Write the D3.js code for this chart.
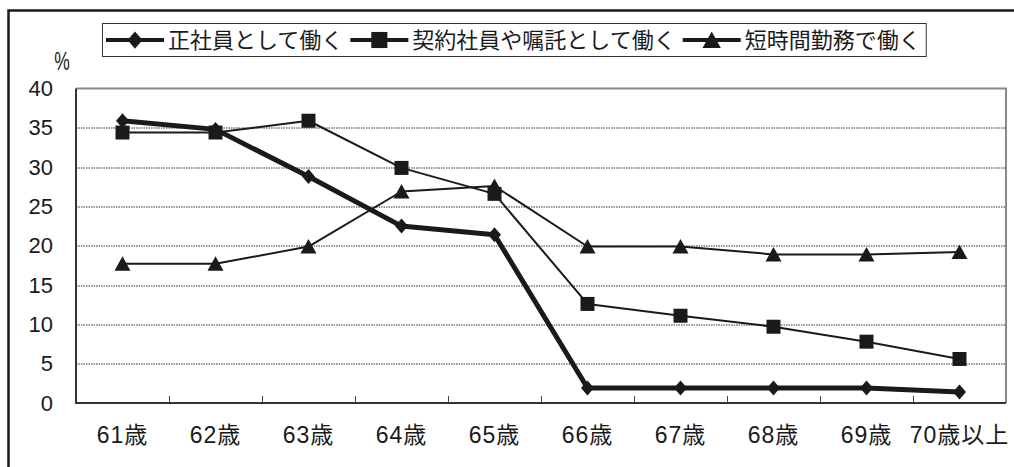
<!DOCTYPE html>
<html>
<head>
<meta charset="utf-8">
<script src="https://cdn.jsdelivr.net/npm/d3@7"></script>
<style>
  body { margin: 0; background: #fff; }
  text { font-family: "Liberation Sans", "Noto Sans CJK JP", sans-serif; fill: #1a1a1a; }
  .jp { font-family: "Noto Sans CJK JP", sans-serif; }
</style>
</head>
<body>
<div id="chart"></div>
<script>
// categories and series (percent)
const ages = ["61歳", "62歳", "63歳", "64歳", "65歳", "66歳", "67歳", "68歳", "69歳", "70歳以上"];
const fullTime = [35.9, 34.8, 28.8, 22.5, 21.4, 1.9, 1.9, 1.9, 1.9, 1.4];
const contract = [34.4, 34.4, 35.9, 29.9, 26.6, 12.6, 11.1, 9.7, 7.8, 5.6];
const shortTime = [17.7, 17.7, 19.9, 26.9, 27.6, 19.9, 19.9, 18.9, 18.9, 19.2];
const seriesNames = ["正社員として働く", "契約社員や嘱託として働く", "短時間勤務で働く"];
const yTicks = [0, 5, 10, 15, 20, 25, 30, 35, 40];

const W = 1014, H = 467;
const margin = { top: 88.5, right: 8, bottom: 64, left: 76 },
    width = W - margin.left - margin.right,
    height = H - margin.top - margin.bottom;

const ink = "#1a1a1a";

const svg = d3.select("#chart")
    .append("svg")
    .attr("width", W)
    .attr("height", H);

// outer frame (only left and top visible)
svg.append("path")
    .attr("d", `M8.5,${H} V10.5 H${W}`)
    .attr("fill", "none")
    .attr("stroke", ink)
    .attr("stroke-width", 2.5);

const g = svg.append("g")
    .attr("transform", `translate(${margin.left},${margin.top})`);

const x = d3.scaleBand().domain(ages).range([0, width]);
const y = d3.scaleLinear().domain([0, 40]).range([height, 0]);

// dotted gridlines
g.selectAll(".grid")
    .data(yTicks.filter(d => d > 0 && d < 40))
    .enter()
    .append("line")
    .attr("x1", 0)
    .attr("x2", width)
    .attr("y1", d => Math.round(y(d)) + 0.5)
    .attr("y2", d => Math.round(y(d)) + 0.5)
    .attr("stroke", "#333")
    .attr("stroke-width", 1)
    .attr("stroke-dasharray", "1.5,1");

// plot frame: top and right grey, left and bottom dark
g.append("path")
    .attr("d", `M0,0 H${width} V${height}`)
    .attr("fill", "none")
    .attr("stroke", "#8a8a8a")
    .attr("stroke-width", 2);
g.append("path")
    .attr("d", `M0,0 V${height} H${width}`)
    .attr("fill", "none")
    .attr("stroke", "#333")
    .attr("stroke-width", 2);

// y axis labels
const yAxis = g.append("g")
    .call(d3.axisLeft(y).tickValues(yTicks).tickSize(0).tickPadding(23));
yAxis.select(".domain").remove();
yAxis.selectAll(".tick text")
    .style("font-size", "22px")
    .style("font-family", "Liberation Sans, sans-serif")
    .attr("fill", ink);

// x axis: inner ticks at category boundaries
g.selectAll(".xtick")
    .data(ages.slice(1))
    .enter()
    .append("line")
    .attr("x1", d => Math.round(x(d)) + 0.5)
    .attr("x2", d => Math.round(x(d)) + 0.5)
    .attr("y1", height)
    .attr("y2", height - 7)
    .attr("stroke", "#444")
    .attr("stroke-width", 1);

g.selectAll(".xlabel")
    .data(ages)
    .enter()
    .append("text")
    .attr("x", d => x(d) + x.bandwidth() / 2)
    .attr("y", height + 40)
    .attr("text-anchor", "middle")
    .style("font-size", "23px")
    .style("letter-spacing", "1px")
    .text(d => d);

// "%" unit label
svg.append("text")
    .attr("x", 62)
    .attr("y", 70)
    .attr("text-anchor", "middle")
    .attr("transform", "translate(62,0) scale(0.7,1) translate(-62,0)")
    .style("font-size", "25px")
    .text("%");

// markers
const markers = {
    diamond: "M0,-7.5L6.5,0L0,7.5L-6.5,0Z",
    square: "M-7,-7H7V7H-7Z",
    triangle: "M0,-7.5L8,7L-8,7Z"
};

const series = [
    { name: seriesNames[0], values: fullTime, width: 5, marker: markers.diamond },
    { name: seriesNames[1], values: contract, width: 2, marker: markers.square },
    { name: seriesNames[2], values: shortTime, width: 2, marker: markers.triangle }
];

const line = d3.line()
    .x((d, i) => x(ages[i]) + x.bandwidth() / 2)
    .y(d => y(d));

// draw thinner series first so the thick one sits on top where they cross
[series[2], series[1], series[0]].forEach(s => {
    g.append("path")
        .datum(s.values)
        .attr("d", line)
        .attr("fill", "none")
        .attr("stroke", ink)
        .attr("stroke-width", s.width)
        .attr("stroke-linejoin", "round");
    g.selectAll(null)
        .data(s.values)
        .enter()
        .append("path")
        .attr("d", s.marker)
        .attr("transform", (d, i) => `translate(${x(ages[i]) + x.bandwidth() / 2},${y(d)})`)
        .attr("fill", ink);
});

// legend
const legend = svg.append("g");
const legendBox = legend.append("rect")
    .attr("x", 102.5)
    .attr("y", 23.5)
    .attr("height", 33)
    .attr("fill", "#fff")
    .attr("stroke", "#333")
    .attr("stroke-width", 1);

let lx = 106;
const ly = 40;
series.forEach(s => {
    legend.append("line")
        .attr("x1", lx).attr("x2", lx + 58)
        .attr("y1", ly).attr("y2", ly)
        .attr("stroke", ink)
        .attr("stroke-width", 4);
    legend.append("path")
        .attr("d", s.marker)
        .attr("transform", `translate(${lx + 29},${ly}) scale(1.15)`)
        .attr("fill", ink);
    const t = legend.append("text")
        .attr("class", "jp")
        .attr("x", lx + 62)
        .attr("y", ly + 8)
        .style("font-size", "22px")
        .text(s.name);
    lx += 62 + t.node().getComputedTextLength() + 7;
});
legendBox.attr("width", lx - 7 - 102 + 5);
</script>
</body>
</html>
